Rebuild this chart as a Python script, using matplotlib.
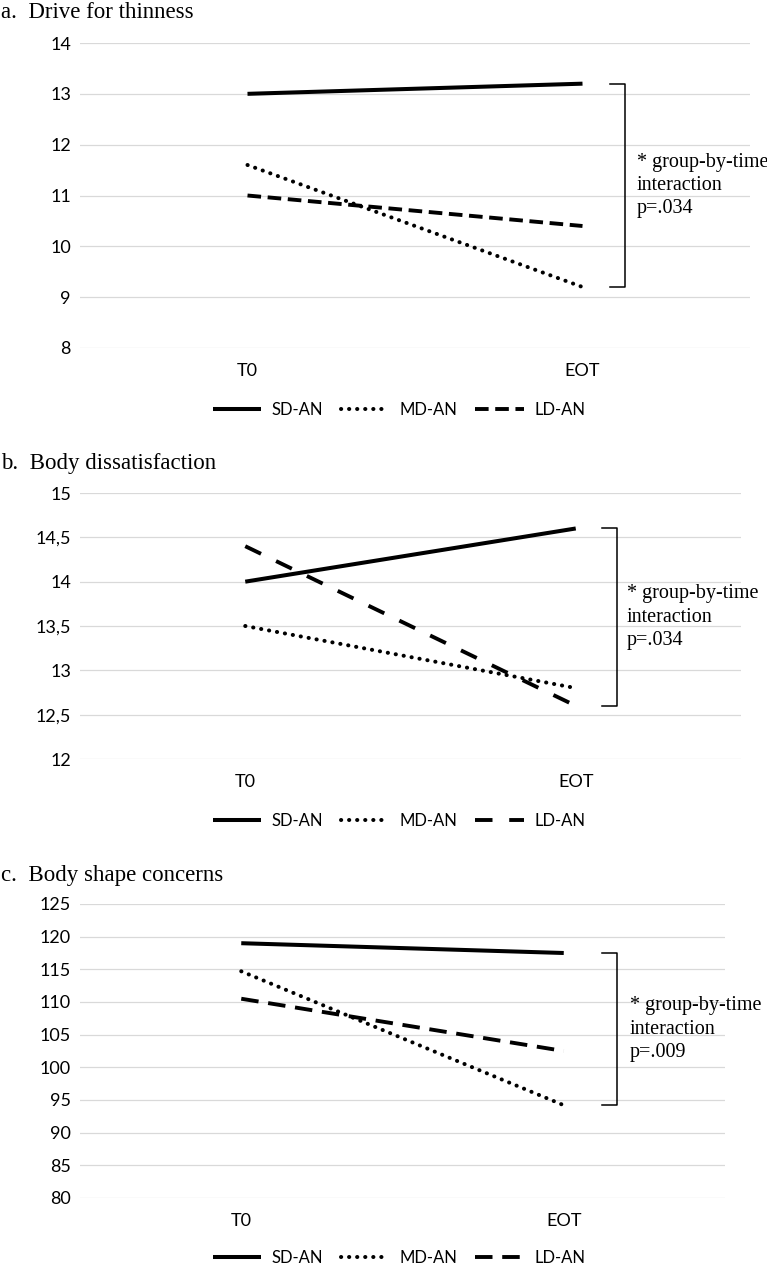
import matplotlib.pyplot as plt
from matplotlib.transforms import blended_transform_factory

# data
time_points = ['T0', 'EOT']
groups = ['SD-AN', 'MD-AN', 'LD-AN']

thin_sd = [13.0, 13.2]
thin_md = [11.6, 9.2]
thin_ld = [11.0, 10.4]
thin_ticks = [8, 9, 10, 11, 12, 13, 14]
thin_labels = ['8', '9', '10', '11', '12', '13', '14']

dissat_sd = [14.0, 14.6]
dissat_md = [13.5, 12.8]
dissat_ld = [14.4, 12.6]
dissat_ticks = [12, 12.5, 13, 13.5, 14, 14.5, 15]
dissat_labels = ['12', '12,5', '13', '13,5', '14', '14,5', '15']

shape_sd = [119.0, 117.5]
shape_md = [114.7, 94.2]
shape_ld = [110.5, 102.5]
shape_ticks = [80, 85, 90, 95, 100, 105, 110, 115, 120, 125]
shape_labels = ['80', '85', '90', '95', '100', '105', '110', '115', '120', '125']

titles = ['a.  Drive for thinness', 'b.  Body dissatisfaction', 'c.  Body shape concerns']
p_values = ['p=.034', 'p=.034', 'p=.009']

W, H = 767, 1270
SERIF = ['Liberation Serif', 'DejaVu Serif']
SANS = ['Lato', 'DejaVu Sans']
LW = 2.6


def fx(px):
    return px / W


def fy(py):
    return 1 - py / H


fig = plt.figure(figsize=(W / 100, H / 100), dpi=100)


def panel(box, title, title_base, sd, md, ld, ticks, labels, dash, pval,
          br_x, txt_x, leg_y):
    left, right, top, bottom = box
    ax = fig.add_axes([fx(left), fy(bottom), fx(right) - fx(left), (bottom - top) / H])
    x = range(len(time_points))
    l1, = ax.plot(x, sd, color='black', lw=LW + 0.3, solid_capstyle='butt')
    l2, = ax.plot(x, md, color='black', lw=LW + 0.3, linestyle=(0, (0.05, 1.95)),
                  dash_capstyle='round')
    l3, = ax.plot(x, ld, color='black', lw=LW + 0.2, linestyle=(0, dash),
                  dash_capstyle='butt')
    ax.set_xlim(-0.5, 1.5)
    ax.set_ylim(ticks[0], ticks[-1])
    ax.set_yticks(ticks)
    ax.set_yticklabels(labels, family=SANS, fontsize=13)
    ax.set_xticks(list(x))
    ax.set_xticklabels(time_points, family=SANS, fontsize=13)
    ax.tick_params(length=0)
    ax.tick_params(axis='y', pad=6.5)
    ax.tick_params(axis='x', pad=11)
    ax.grid(axis='y', color='#d9d9d9', lw=0.9)
    ax.set_axisbelow(True)
    for s in ax.spines.values():
        s.set_visible(False)

    fig.text(fx(1), fy(title_base), title, family=SERIF, fontsize=16.5,
             va='baseline', ha='left')

    # bracket for the interaction
    tr = blended_transform_factory(fig.transFigure, ax.transData)
    top_v = max(sd[1], md[1], ld[1])
    bot_v = min(sd[1], md[1], ld[1])
    bx = fx(br_x)
    tick = fx(15)
    ax.plot([bx - tick, bx, bx, bx - tick], [top_v, top_v, bot_v, bot_v],
            color='black', lw=1.1, transform=tr, clip_on=False)
    ax.text(fx(txt_x), (top_v + bot_v) / 2,
            '* group-by-time\ninteraction\n' + pval,
            transform=tr, family=SERIF, fontsize=14.5, va='center', ha='left',
            linespacing=1.3)

    fig.legend([l1, l2, l3], groups, loc='center', ncol=3,
               bbox_to_anchor=(fx(399), fy(leg_y)), frameon=False,
               prop={'family': SANS, 'size': 12}, handlelength=2.9,
               handletextpad=0.65, columnspacing=1.05)


panel((80, 750, 43, 348), titles[0], 18.5, thin_sd, thin_md, thin_ld,
      thin_ticks, thin_labels, (3.5, 1.7), p_values[0], 625, 637, 410)
panel((80, 741, 493, 759), titles[1], 469, dissat_sd, dissat_md, dissat_ld,
      dissat_ticks, dissat_labels, (4.5, 4.3), p_values[1], 617, 627, 821)
panel((80, 725, 904, 1198), titles[2], 881, shape_sd, shape_md, shape_ld,
      shape_ticks, shape_labels, (4.5, 2.5), p_values[2], 617, 630, 1258)

fig.savefig('out.png', dpi=100)
